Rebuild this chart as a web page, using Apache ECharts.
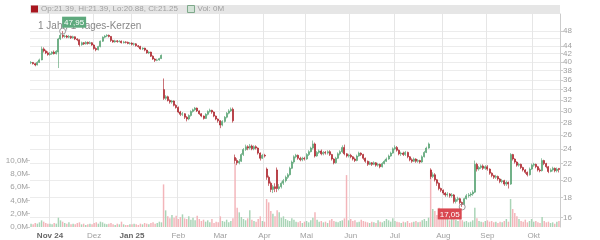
<!DOCTYPE html>
<html>
<head>
<meta charset="utf-8">
<script src="https://cdn.jsdelivr.net/npm/echarts@6/dist/echarts.min.js"></script>
<style>
  html, body { margin: 0; padding: 0; background: #fff; }
  #chart { width: 600px; height: 240px; }
</style>
</head>
<body>
<div id="chart"></div>
<script>
// trading calendar (Xetra), 1 year of daily candles
var firstDay = '2024-10-21';
var lastDay = '2025-10-17';
var holidays = ['2024-12-24', '2024-12-25', '2024-12-26', '2024-12-31', '2025-01-01', '2025-04-18', '2025-04-21', '2025-05-01'];
var monthNames = ['Jan', 'Feb', 'Mar', 'Apr', 'Mai', 'Jun', 'Jul', 'Aug', 'Sep', 'Okt', 'Nov', 'Dez'];

// [open, close, low, high]
var oct24 = [
  [39.8,39.9,39.5,40.2],[39.9,39.6,39.4,40.0],[39.6,39.3,39.0,39.8],[39.3,39.9,39.2,40.2],[39.9,40.5,39.8,40.8],
  [40.5,43.2,40.4,43.8],[43.2,42.7,42.3,43.6],[42.7,42.2,41.9,43.0],[42.2,41.8,41.5,42.6]
];
var nov24 = [
  [41.8,42.0,41.5,42.4],[42.0,42.4,41.7,42.6],[42.4,42.0,41.8,42.8],[42.0,42.6,41.8,42.9],[42.4,45.8,38.6,46.1],
  [45.8,46.8,45.5,47.2],[46.8,46.5,46.0,47.95],[46.5,46.6,46.1,47.0],[46.6,46.3,46.0,46.9],[46.3,46.5,46.0,46.9],
  [46.5,46.1,45.8,46.7],[46.1,46.4,45.9,46.7],[46.4,45.8,45.5,46.5],[45.8,45.6,45.2,46.0],[45.6,44.3,43.8,45.7],
  [44.3,44.8,44.0,45.1],[44.8,44.5,44.2,45.0],[44.5,44.9,44.3,45.2],[44.9,44.6,44.3,45.1],[44.6,44.8,44.4,45.2],
  [44.8,44.2,44.0,45.0]
];
var dec24 = [
  [44.2,43.3,43.0,44.4],[43.3,43.0,42.6,43.6],[43.0,43.8,42.8,44.0],[43.8,45.2,43.6,45.4],[45.2,46.3,45.0,46.5],
  [46.3,46.6,46.0,46.9],[46.6,46.8,46.3,47.1],[46.8,46.5,46.2,47.0],[46.5,45.4,45.0,46.6],[45.4,45.0,44.8,45.6],
  [45.0,45.3,44.8,45.6],[45.3,45.1,44.8,45.5],[45.1,45.2,44.9,45.5],[45.2,44.8,44.6,45.4],[44.8,45.0,44.6,45.3],
  [45.0,44.9,44.6,45.2],[44.9,44.6,44.4,45.1],[44.6,44.7,44.3,45.0]
];
var jan25 = [
  [44.7,44.4,44.1,44.9],[44.4,44.5,44.0,44.8],[44.5,44.0,43.8,44.7],[44.0,43.8,43.5,44.2],[43.8,43.2,43.0,44.0],
  [43.2,43.4,42.9,43.6],[43.4,42.9,42.6,43.5],[42.9,42.2,42.0,43.0],[42.2,42.4,41.9,42.6],[42.4,41.4,41.2,42.5],
  [41.4,40.7,40.5,41.6],[40.7,40.4,40.0,40.9],[40.4,40.5,40.2,40.8],[40.5,40.8,40.3,41.0],[40.8,41.6,40.7,41.8],
  [34.0,32.3,32.0,36.3],[32.3,32.6,32.0,32.9],[32.6,31.9,31.7,32.8],[31.9,31.6,31.3,32.1],[31.6,31.8,31.3,32.0],
  [31.8,31.0,30.8,31.9],[31.0,30.6,30.4,31.2]
];
var feb25 = [
  [30.6,29.8,29.6,30.8],[29.8,29.4,29.1,30.0],[29.4,29.5,29.1,29.8],[29.5,28.9,28.6,29.6],[28.9,28.6,28.2,29.1],
  [28.6,29.2,28.4,29.4],[29.2,29.9,29.0,30.1],[29.9,30.2,29.7,30.4],[30.2,30.5,30.0,30.7],[30.5,30.0,29.8,30.6],
  [30.0,29.5,29.3,30.1],[29.5,29.1,28.9,29.6],[29.1,28.7,28.5,29.2],[28.7,29.4,28.6,29.6],[29.4,29.9,29.2,30.1],
  [29.9,30.1,29.7,30.4],[30.1,29.8,29.5,30.2],[29.8,29.1,28.9,29.9],[29.1,28.6,28.4,29.2],[28.6,28.3,28.0,28.7]
];
var mar25 = [
  [28.3,27.6,27.1,28.4],[27.6,28.2,27.4,28.4],[28.2,28.9,28.0,29.1],[28.9,29.6,28.7,29.8],[29.6,30.0,29.4,30.3],
  [30.0,30.3,29.8,30.6],[30.3,28.3,28.0,30.6],[22.8,22.4,22.0,23.2],[22.4,22.1,21.8,22.7],[22.1,22.3,21.9,22.6],
  [22.3,23.2,22.2,23.4],[23.2,23.9,23.0,24.1],[23.9,24.3,23.7,24.6],[24.3,24.1,23.8,24.5],[24.1,24.4,23.9,24.7],
  [24.4,24.0,23.8,24.6],[24.0,24.3,23.8,24.5],[24.3,24.1,23.9,24.5],[24.1,23.4,23.2,24.2],[23.4,22.7,22.4,23.5],
  [22.7,23.1,22.6,23.3]
];
var apr25 = [
  [23.1,23.0,22.8,23.3],[21.3,20.3,20.0,21.5],[20.3,19.6,19.3,20.5],[19.6,18.9,18.6,19.8],[18.9,19.2,18.5,19.4],
  [19.2,19.0,18.6,19.6],[21.2,19.0,18.6,21.5],[19.0,19.2,18.8,19.5],[19.2,19.6,19.0,19.8],[19.6,19.9,19.4,20.1],
  [19.9,20.3,19.7,20.5],[20.3,20.6,20.1,20.8],[20.6,21.4,20.5,21.6],[21.4,22.2,21.3,22.4],[22.2,22.9,22.0,23.1],
  [22.9,23.1,22.7,23.3],[23.1,22.7,22.5,23.2],[22.7,22.5,22.3,22.9],[22.5,22.7,22.3,22.9],[22.7,22.6,22.4,22.9]
];
var may25 = [
  [22.6,23.2,22.5,23.4],[23.2,23.6,23.0,23.8],[23.6,24.1,23.5,24.3],[24.1,24.7,23.9,25.2],[24.7,23.0,22.8,24.9],
  [23.0,23.5,22.9,23.7],[23.5,23.7,23.3,23.9],[23.7,23.3,23.1,23.9],[23.3,23.5,23.1,23.7],[23.5,23.4,23.2,23.7],
  [23.4,23.6,23.2,23.8],[23.6,23.2,23.0,23.8],[23.2,22.6,22.4,23.3],[22.6,22.1,21.9,22.7],[22.1,22.7,22.0,22.9],
  [22.7,23.3,22.6,23.5],[23.3,23.6,23.1,23.8],[23.6,24.2,23.4,24.5],[24.2,23.3,23.1,24.6],[23.3,23.0,22.8,23.4],
  [23.0,23.1,22.8,23.3]
];
var jun25 = [
  [23.1,22.9,22.7,23.3],[22.9,22.6,22.4,23.0],[22.6,22.4,22.2,22.8],[22.4,23.0,22.3,23.2],[23.0,23.4,22.9,23.6],
  [23.4,23.2,23.0,23.5],[23.2,22.7,22.5,23.3],[22.7,22.3,22.1,22.8],[22.3,21.9,21.7,22.4],[21.9,22.1,21.8,22.3],
  [22.1,21.9,21.7,22.2],[21.9,22.1,21.8,22.3],[22.1,21.8,21.6,22.2],[21.8,21.9,21.6,22.1],[21.9,21.6,21.4,22.0],
  [21.6,22.0,21.5,22.2],[22.0,22.3,21.9,22.5],[22.3,22.6,22.2,22.8],[22.6,23.0,22.5,23.2],[23.0,23.4,22.9,23.6],
  [23.4,24.0,23.3,24.2]
];
var jul25 = [
  [24.0,24.2,23.8,24.5],[24.2,23.8,23.6,24.4],[23.8,23.3,23.1,23.9],[23.3,23.4,23.0,23.6],[23.4,23.2,23.0,23.6],
  [23.2,23.5,23.0,23.7],[23.5,22.9,22.7,23.6],[22.9,22.5,22.3,23.0],[22.5,22.3,22.1,22.7],[22.3,22.6,22.2,22.8],
  [22.6,22.3,22.1,22.7],[22.3,22.4,22.1,22.6],[22.4,22.2,22.0,22.5],[22.2,22.9,22.1,23.1],[22.9,23.5,22.8,23.7],
  [23.5,24.1,23.4,24.3],[24.1,24.7,24.0,24.9],[21.2,20.4,20.1,21.4],[20.4,20.6,20.2,20.9],[20.6,20.0,19.8,20.8],
  [20.0,19.6,19.3,20.1],[19.6,19.0,18.8,19.7],[19.0,18.8,18.6,19.1]
];
var aug25 = [
  [18.8,18.5,18.3,18.9],[18.5,18.3,18.1,18.6],[18.3,18.4,18.1,18.6],[18.4,18.2,18.0,18.5],[18.2,18.3,18.0,18.5],
  [18.3,17.6,17.4,18.4],[17.6,17.8,17.4,18.0],[17.8,17.9,17.6,18.1],[17.9,17.5,17.3,18.0],[17.5,17.3,17.05,17.6],
  [17.3,17.9,17.2,18.0],[17.9,18.2,17.8,18.4],[18.2,18.3,18.0,18.5],[18.3,18.4,18.1,18.6],[18.4,18.6,18.2,18.8],
  [18.6,21.9,18.5,22.4],[21.9,21.3,21.0,22.1],[21.3,21.5,21.1,21.7],[21.5,21.7,21.3,21.9],[21.7,21.4,21.2,21.9],
  [21.4,21.6,21.2,21.8]
];
var sep25 = [
  [21.6,21.3,21.1,21.8],[21.3,20.8,20.6,21.4],[20.8,20.5,20.3,20.9],[20.5,20.3,20.1,20.6],[20.3,20.4,20.1,20.6],
  [20.4,20.1,19.9,20.5],[20.1,19.8,19.6,20.2],[19.8,19.9,19.6,20.1],[19.9,19.5,19.3,20.0],[19.5,19.7,19.3,19.9],
  [19.7,19.5,19.0,19.8],[19.5,23.2,19.4,23.4],[23.2,22.6,22.4,23.3],[22.6,22.2,22.0,22.7],[22.2,21.8,21.6,22.3],
  [21.8,21.9,21.6,22.1],[21.9,21.5,21.3,22.0],[21.5,21.2,21.0,21.6],[21.2,20.9,20.7,21.3],[20.9,20.6,20.4,21.0],
  [20.6,21.3,20.5,21.5],[21.3,21.8,21.2,22.0]
];
var oct25 = [
  [21.8,21.9,21.6,22.1],[21.9,21.6,21.4,22.0],[21.6,21.2,21.0,21.7],[21.2,21.1,20.9,21.4],[21.1,22.4,21.0,22.7],
  [22.4,22.0,21.8,22.5],[22.0,21.6,21.4,22.1],[21.6,21.0,20.8,21.7],[21.0,21.2,20.9,21.4],[21.2,21.4,21.0,21.6],
  [21.4,21.1,20.9,21.5],[21.1,21.3,20.9,21.5],[21.39,21.25,20.88,21.39]
];

// volume in millions of shares
var volume = [
  0.5,0.4,0.6,0.5,0.7,1.0,0.8,0.6,0.5,
  0.5,0.4,0.6,0.5,1.4,1.0,0.8,0.6,0.5,0.7,0.4,0.5,0.4,0.6,0.7,0.4,0.5,0.3,0.4,0.5,0.4,
  0.6,0.7,0.5,0.8,0.7,0.5,0.4,0.5,0.6,0.4,0.3,0.5,0.4,0.8,0.4,0.3,0.3,0.4,
  0.4,0.5,0.4,0.3,0.5,0.4,0.6,0.5,0.4,0.6,0.7,0.5,0.6,0.8,0.7,6.4,2.5,1.6,1.3,1.8,1.4,1.7,
  1.2,1.5,1.9,1.3,1.2,1.6,1.1,1.4,1.0,1.7,1.2,0.9,1.1,0.8,1.0,0.7,1.2,0.6,0.8,0.7,
  1.6,0.9,0.8,1.1,0.7,0.9,1.3,9.5,2.9,2.2,1.5,1.2,1.0,1.3,2.5,1.1,0.9,0.8,1.2,1.6,0.9,
  0.8,4.2,3.7,2.4,2.0,1.6,2.5,2.2,1.4,1.6,1.2,1.0,0.9,1.3,1.1,0.8,0.7,0.9,0.6,0.8,
  0.9,0.7,1.0,1.4,2.2,1.1,0.8,0.9,0.7,0.8,0.6,1.0,1.2,0.9,0.8,0.7,0.9,1.0,1.3,7.8,1.0,
  1.2,0.9,1.0,0.7,0.8,1.1,0.9,0.8,0.7,0.6,0.8,0.7,0.6,1.0,0.8,0.7,0.9,1.2,1.0,0.8,1.3,
  0.9,0.8,0.7,0.6,0.8,0.7,0.9,0.6,0.7,0.8,0.9,0.7,0.8,1.0,1.2,0.9,1.4,8.5,2.7,2.4,1.8,2.9,1.6,
  1.4,1.9,1.2,1.0,1.4,1.6,1.1,0.9,1.3,1.0,0.8,0.9,0.7,0.8,1.0,2.9,1.3,0.9,0.8,0.7,0.9,
  1.0,0.8,0.9,0.7,0.8,0.6,0.8,0.7,0.9,1.2,0.8,4.2,2.7,2.1,1.6,1.2,0.9,0.8,1.1,0.7,0.9,1.2,
  0.8,0.9,0.7,0.6,1.5,0.9,0.7,0.8,0.6,0.7,0.5,0.8,0.9
];

var priceTicks = [16, 18, 20, 22, 24, 26, 28, 30, 32, 34, 36, 38, 40, 42, 44, 46, 48];
var volumeTicks = [0, 2e6, 4e6, 6e6, 8e6, 10e6];

var ohlc = [].concat(oct24, nov24, dec24, jan25, feb25, mar25, apr25, may25, jun25, jul25, aug25, sep25, oct25);

var dates = [];
(function () {
  var d = new Date(firstDay + 'T00:00:00Z');
  var end = new Date(lastDay + 'T00:00:00Z');
  while (d <= end) {
    var s = d.toISOString().slice(0, 10);
    var wd = d.getUTCDay();
    if (wd !== 0 && wd !== 6 && holidays.indexOf(s) < 0) dates.push(s);
    d.setUTCDate(d.getUTCDate() + 1);
  }
})();

var upColor = '#4f9e6c';
var downColor = '#a8161f';
var upVol = '#a9d4b6';
var downVol = '#f3b5ba';
var fontFamily = '"Liberation Sans", Arial, sans-serif';

function monthStart(idx) {
  if (idx === 0) return false;
  return dates[idx].slice(0, 7) !== dates[idx - 1].slice(0, 7);
}

function de(v) {
  return v.toFixed(2).replace('.', ',');
}

var last = ohlc[ohlc.length - 1];

var chart = echarts.init(document.getElementById('chart'), null, { renderer: 'canvas' });
var option = {
  animation: false,
  textStyle: { fontFamily: fontFamily },
  title: {
    text: '1 Jahr, 1-Tages-Kerzen',
    left: 33, top: 16, z: 1,
    textStyle: { fontSize: 10, fontWeight: 'normal', color: '#888', fontFamily: fontFamily }
  },
  graphic: [{
    type: 'rect', z: -1, silent: true,
    shape: { x: 30, y: 5, width: 530, height: 9 },
    style: { fill: '#e6e6e6' }
  }],
  legend: {
    left: 31, top: 5, padding: 0, itemGap: 9,
    itemWidth: 7, itemHeight: 7,
    textStyle: { fontSize: 8, color: '#a0a0a0', padding: [0, 0, 0, -2] },
    data: [
      { name: 'Kurs', icon: 'rect', itemStyle: { color: downColor, borderWidth: 0 } },
      { name: 'Vol', icon: 'rect', itemStyle: { color: '#d3e3d7', borderColor: '#7fa98b', borderWidth: 1 } }
    ],
    formatter: function (name) {
      if (name === 'Kurs') {
        return 'Op:' + last[0].toFixed(2) + ', Hi:' + last[3].toFixed(2) + ', Lo:' + last[2].toFixed(2) + ', Cl:' + last[1].toFixed(2);
      }
      return 'Vol: 0M';
    }
  },
  grid: { left: 30, right: 40, top: 14, bottom: 13 },
  xAxis: {
    type: 'category',
    data: dates,
    boundaryGap: true,
    axisLine: { show: false },
    axisTick: { show: false },
    splitLine: { show: true, interval: monthStart, lineStyle: { color: '#e6e6e6', width: 1 } },
    axisLabel: {
      interval: monthStart,
      fontSize: 8, color: '#a0a0a0', margin: 5,
      formatter: function (val) {
        var y = +val.slice(0, 4), m = +val.slice(5, 7) - 1;
        if (m === 0 || (y === 2024 && m === 10)) return '{b|' + monthNames[m] + ' ' + String(y).slice(2) + '}';
        return monthNames[m];
      },
      rich: { b: { fontSize: 8, fontWeight: 'bold', color: '#666' } }
    }
  },
  yAxis: [{
    type: 'log',
    position: 'right',
    min: 15.15, max: 53.05,
    axisLine: { show: true, lineStyle: { color: '#cccccc' } },
    axisTick: { show: true, length: 3, customValues: priceTicks, lineStyle: { color: '#cccccc' } },
    axisLabel: {
      customValues: priceTicks, fontSize: 8, color: '#a0a0a0', margin: 3,
      hideOverlap: false, showMinLabel: true, showMaxLabel: true
    },
    splitLine: { show: true, lineStyle: { color: '#ececec' } }
  }, {
    type: 'value',
    position: 'left',
    min: 0, max: 32e6,
    axisLine: { show: false },
    axisTick: { show: true, length: 3, inside: false, customValues: volumeTicks, lineStyle: { color: '#cccccc' } },
    axisLabel: {
      customValues: volumeTicks, fontSize: 8, color: '#a0a0a0', margin: 2,
      showMinLabel: true, showMaxLabel: true,
      formatter: function (v) { return (v / 1e6).toFixed(1).replace('.', ',') + 'M'; }
    },
    splitLine: { show: false }
  }],
  series: [{
    name: 'Vol',
    type: 'bar',
    yAxisIndex: 1,
    barWidth: '70%',
    z: 1,
    itemStyle: { color: upVol },
    data: volume.map(function (v, i) {
      return { value: v * 1e6, itemStyle: { color: ohlc[i][1] >= ohlc[i][0] ? upVol : downVol } };
    })
  }, {
    name: 'Kurs',
    type: 'candlestick',
    yAxisIndex: 0,
    barWidth: 1.5,
    z: 3,
    itemStyle: { color: upColor, color0: downColor, borderColor: upColor, borderColor0: downColor, borderWidth: 0.6 },
    data: ohlc,
    markPoint: {
      symbol: 'circle', symbolSize: 6,
      itemStyle: { color: 'rgba(255,255,255,0)', borderColor: '#999', borderWidth: 1 },
      data: [{
        type: 'max', valueDim: 'highest',
        label: {
          position: [3, -11], align: 'left', verticalAlign: 'top',
          formatter: function (p) { return de(p.value); },
          fontSize: 8, color: '#fff', backgroundColor: '#5ea97d', padding: [2, 2, 1, 2]
        }
      }, {
        type: 'min', valueDim: 'lowest',
        label: {
          position: [3, 5], align: 'right', verticalAlign: 'top',
          formatter: function (p) { return de(p.value); },
          fontSize: 8, color: '#fff', backgroundColor: '#d94850', padding: [2, 2, 1, 2]
        }
      }]
    }
  }]
};
chart.setOption(option);
</script>
</body>
</html>
